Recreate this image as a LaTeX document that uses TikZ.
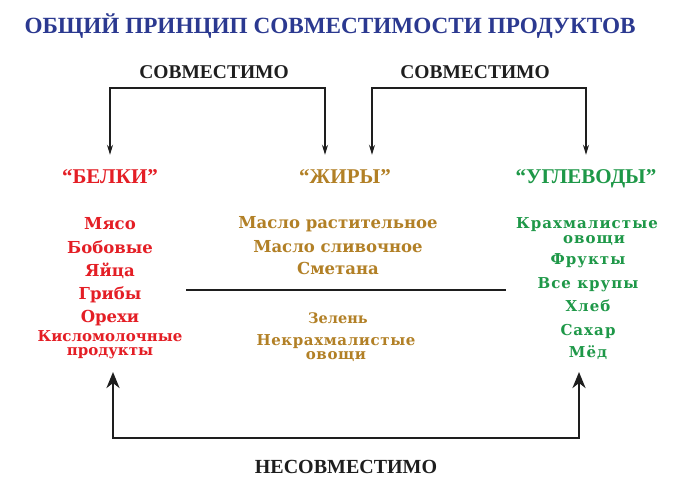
\documentclass[tikz,border=0pt]{standalone}
\usepackage{fontspec}
\setmainfont{Liberation Serif}
\newfontfamily\listfont{DejaVu Serif}
\usetikzlibrary{arrows.meta,calc}
\definecolor{ttlblue}{RGB}{43,57,144}
\definecolor{pred}{RGB}{228,30,37}
\definecolor{pgold}{RGB}{178,128,38}
\definecolor{pgreen}{RGB}{30,152,72}
\definecolor{ink}{RGB}{30,30,30}
\begin{document}
\begin{tikzpicture}[x=1pt,y=-1pt,
  ttl/.style={font=\fontsize{23.2}{24}\selectfont\bfseries, text=ttlblue, inner sep=0, anchor=base},
  lbl/.style={font=\fontsize{19.5}{20}\selectfont\bfseries, text=ink, inner sep=0, anchor=base},
  hdr/.style={font=\fontsize{21}{21}\selectfont\bfseries, inner xsep=0, inner ysep=14pt, text height=14pt, text depth=4pt, anchor=base},
  itm/.style={font=\listfont\fontsize{16.5}{17}\selectfont\bfseries, inner sep=0, anchor=base},
  sitm/.style={font=\listfont\fontsize{15}{15}\selectfont\bfseries, inner sep=0, anchor=base},
  zitm/.style={font=\listfont\fontsize{14.5}{15}\selectfont\bfseries, inner sep=0, anchor=base},
  nitm/.style={font=\listfont\fontsize{15}{15}\selectfont\bfseries\addfontfeature{LetterSpace=4}, inner sep=0, anchor=base},
  gitm/.style={font=\listfont\fontsize{15}{15}\selectfont\bfseries\addfontfeature{LetterSpace=7}, inner sep=0, anchor=base},
  upper/.style={text depth=0pt},
  lower/.style={text height=8pt},
  toptip/.tip={Stealth[length=10pt,width=6pt,inset=3pt]},
  bottip/.tip={Stealth[length=16pt,width=13pt,inset=5pt]},
  topar/.style={draw=ink, line width=1.3pt, line join=miter, toptip-toptip},
  botar/.style={draw=ink, line width=2.6pt, line join=miter, bottip-bottip},
  divline/.style={draw=ink, line width=1.8pt}]
\useasboundingbox[fill=white] (0,0) rectangle (680,499);

% title
\node[ttl] (title) at (330,33) {ОБЩИЙ ПРИНЦИП СОВМЕСТИМОСТИ ПРОДУКТОВ};

% top labels
\node[lbl] (sov1) at (214,78) {СОВМЕСТИМО};
\node[lbl] (sov2) at (475,78) {СОВМЕСТИМО};

% headers
\node[hdr, text=pred] (belki) at (110,183) {“БЕЛКИ”};
\node[hdr, text=pgold] (zhiry) at (345,183) {“ЖИРЫ”};
\node[hdr, text=pgreen] (ugl) at (586,183) {“УГЛЕВОДЫ”};

% left list
\begin{scope}[every node/.append style={text=pred}]
\node[itm] (l1) at (110,229) {Мясо};
\node[itm] (l2) at (110,253) {Бобовые};
\node[itm] (l3) at (110,276) {Яйца};
\node[itm] (l4) at (110,299) {Грибы};
\node[itm] (l5) at (110,322) {Орехи};
\node[sitm, upper] (l6) at (110,341) {Кисломолочные};
\node[sitm, lower] (l7) at (110,355) {продукты};
\end{scope}

% middle list
\begin{scope}[every node/.append style={text=pgold}]
\node[itm] (m1) at (338,228) {Масло растительное};
\node[itm] (m2) at (338,252) {Масло сливочное};
\node[itm] (m3) at (338,274) {Сметана};
\node[zitm] (m4) at (338,323) {Зелень};
\node[nitm, upper] (m5) at (336,345) {Некрахмалистые};
\node[nitm, lower] (m6) at (336,359) {овощи};
\end{scope}

% right list
\begin{scope}[every node/.append style={text=pgreen}]
\node[gitm, upper] (r1) at (587,228.5) {Крахмалистые};
\node[gitm, lower] (r2) at (594,243) {овощи};
\node[gitm] (r3) at (588,264) {Фрукты};
\node[gitm] (r4) at (588,288) {Все крупы};
\node[gitm] (r5) at (588,311) {Хлеб};
\node[gitm] (r6) at (588,335) {Сахар};
\node[gitm] (r7) at (588,357) {Мёд};
\end{scope}

% divider
\coordinate (divL) at (186,290);
\coordinate (divR) at (506,290);
\draw[divline] (divL) -- (divR);

% top brackets
\coordinate (brL) at (214,88);
\coordinate (brR) at (475,88);
\draw[topar] (belki.north) |- (brL) -| ([xshift=-20pt]zhiry.north);
\draw[topar] ([xshift=27pt]zhiry.north) |- (brR) -| (ugl.north);

% bottom bracket
\node[lbl, font=\fontsize{20}{20}\selectfont\bfseries] (nes) at (346,473) {НЕСОВМЕСТИМО};
\coordinate (inL) at (113,372);
\coordinate (inR) at (579,372);
\coordinate (brB) at (346,438);
\draw[botar] (inL) |- (brB) -| (inR);
\end{tikzpicture}
\end{document}
